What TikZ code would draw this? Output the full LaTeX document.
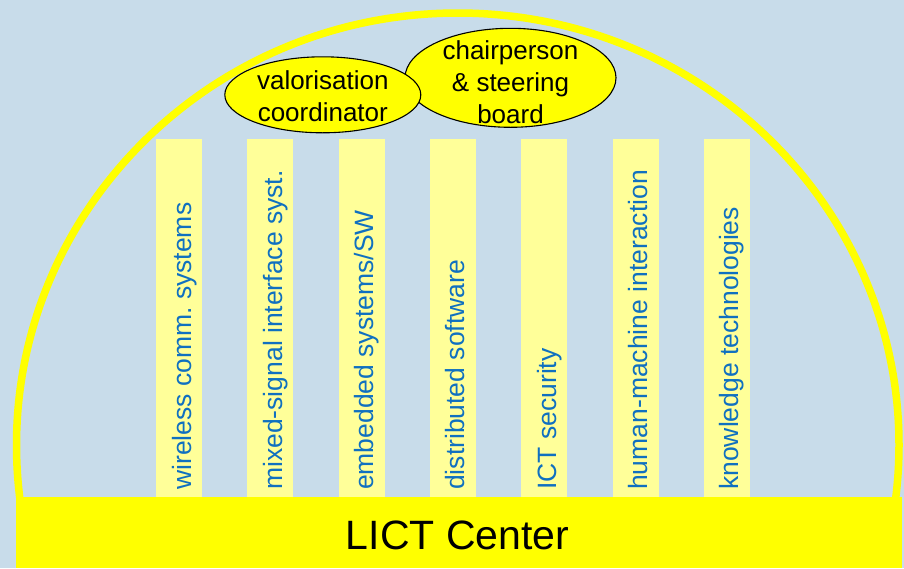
\documentclass[tikz,border=0pt]{standalone}
\usepackage{fontspec}
\setmainfont{Liberation Sans}
\usetikzlibrary{shapes.geometric}
\frenchspacing
\definecolor{bgblue}{HTML}{C8DCEA}
\definecolor{colfill}{HTML}{FFFF99}
\definecolor{coltxt}{HTML}{1070C0}
\definecolor{brightyellow}{HTML}{FFFF00}
\tikzset{
  column/.style={fill=colfill, draw=none, minimum width=46pt, minimum height=357.5pt, inner sep=0pt, anchor=south},
  coltext/.style={text=coltxt, font=\fontsize{26.5}{30}\selectfont, rotate=90, anchor=base west, inner sep=0pt},
  bubble/.style={ellipse, draw=black, line width=1.1pt, fill=brightyellow, inner sep=0pt},
  bubbletext/.style={inner sep=0pt, align=center, font=\fontsize{26}{32}\selectfont},
}
\begin{document}
\begin{tikzpicture}[x=1pt,y=-1pt]
\useasboundingbox (0,0) rectangle (904,568);
\fill[bgblue] (0,0) rectangle (904,568);
\begin{scope}
  \clip (0,0) rectangle (904,498);
  \draw[brightyellow, line width=7.5pt] (457.75,445) ellipse [x radius=441.25, y radius=432];
\end{scope}
\fill[brightyellow] (16,497) rectangle (902,568);
\node[anchor=base, inner sep=0pt, font=\fontsize{41}{48}\selectfont] (center) at (457.5,549) {LICT Center};
\foreach \i/\t in {1/{wireless comm. systems}, 2/{mixed-signal interface syst.}, 3/{embedded systems/SW}, 4/{distributed software}, 5/{ICT security}, 6/{human-machine interaction}, 7/{knowledge technologies}} {
  \node[column] (col\i) at ({179+91.33*(\i-1)},497) {};
  \node[coltext] (txt\i) at ([xshift=12pt, yshift=7pt]col\i.south) {\t};
}
\node[bubble, minimum width=211pt, minimum height=99pt] (chair) at (510.5,77.8) {};
\node[bubbletext] (chairtxt) at ([yshift=-4pt]chair.center) {chairperson\\ \& steering\\ board};
\node[bubble, minimum width=196pt, minimum height=76pt] (valor) at (322.8,94.8) {};
\node[bubbletext] (valortxt) at ([yshift=-1.5pt]valor.center) {valorisation\\ coordinator};
\end{tikzpicture}
\end{document}
